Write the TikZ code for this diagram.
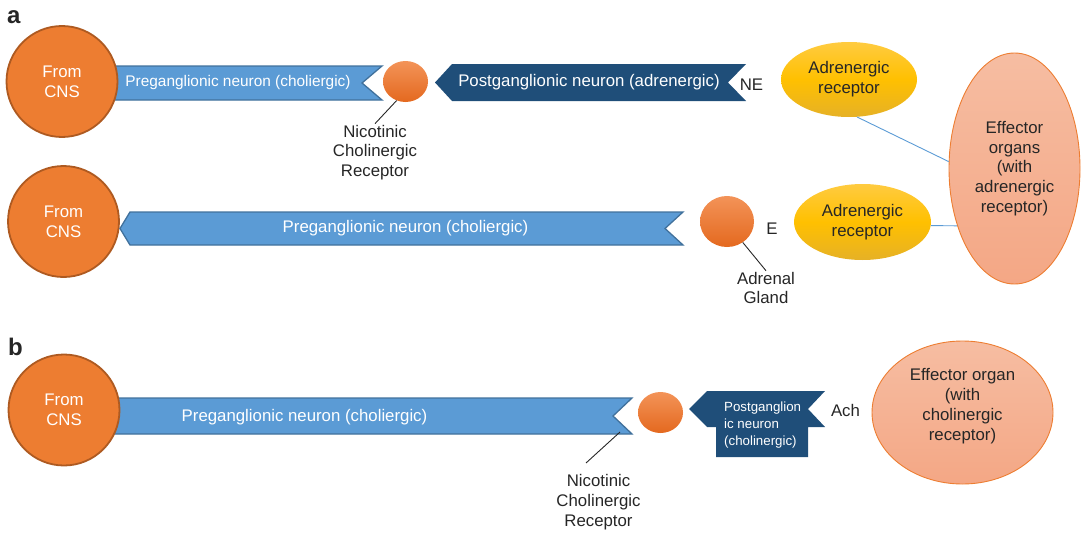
\documentclass[tikz,border=0pt]{standalone}
\usepackage{fontspec}
\setmainfont{Liberation Sans}
\usetikzlibrary{shapes.geometric}
\definecolor{cnsor}{HTML}{ED7D31}
\definecolor{cnsbd}{HTML}{AE5A21}
\definecolor{bandbl}{HTML}{5B9BD5}
\definecolor{bandbd}{HTML}{41719C}
\definecolor{darkbl}{HTML}{1F4E79}
\definecolor{txt}{HTML}{262626}
\definecolor{gtop}{HTML}{F39358}
\definecolor{gbot}{HTML}{E4691F}
\definecolor{ytop}{HTML}{FFCB40}
\definecolor{ymid}{HTML}{FFC000}
\definecolor{ybot}{HTML}{E6B126}
\definecolor{etop}{HTML}{F6BDA2}
\definecolor{ebot}{HTML}{F4A785}
\newcommand\fsmain{\fontsize{16.8}{19.8}\selectfont}
\newcommand\fspre{\fontsize{15.4}{18.5}\selectfont}
\newcommand\fssmall{\fontsize{13.3}{16.8}\selectfont}
\newcommand\fspanel{\fontsize{24}{28}\selectfont\bfseries}
\begin{document}
\begin{tikzpicture}[x=1pt,y=-1pt,
  cns/.style={circle, fill=cnsor, draw=cnsbd, line width=1.8pt, inner sep=0pt,
    minimum size=111pt, text=white, font=\fsmain, align=center},
  ganglion/.style={ellipse, top color=gtop, bottom color=gbot, draw=none,
    minimum width=45pt, minimum height=41pt, inner sep=0pt},
  receptor/.style={ellipse, top color=ytop, bottom color=ybot, middle color=ymid,
    draw=none, minimum width=136pt, minimum height=75pt, inner sep=0pt,
    text=txt, font=\fsmain, align=center},
  effector/.style={ellipse, draw=cnsor, line width=0.9pt, top color=etop,
    bottom color=ebot, inner sep=0pt, text=txt, font=\fsmain, align=center},
  lbl/.style={text=txt, font=\fsmain, align=center, inner sep=1pt},
  wtxt/.style={text=white, font=\fsmain, inner sep=0pt},
  band/.style={fill=bandbl, draw=bandbd, line width=1.3pt, line join=miter},
  dband/.style={fill=darkbl, draw=none},
  conn/.style={draw=bandbl, line width=0.9pt},
  leader/.style={draw=txt, line width=0.9pt},
  panel/.style={text=txt, font=\fspanel, anchor=base west, inner sep=0pt}]
\useasboundingbox (0,0) rectangle (1083,535);

% panel labels
\node[panel] (pa) at (7,24) {a};
\node[panel] (pb) at (8,355) {b};

% ---------- row 1 ----------
\path[band] (100,66) -- (382,66) -- (362,83) -- (382,100) -- (100,100) -- cycle;
\node[cns] (cns1) at (62,81.5) {From\\CNS};
\node[wtxt, font=\fspre] (pre1) at (238,83) {Preganglionic neuron (choliergic)};
\node[ganglion] (g1) at (405.5,81.5) {};
\node[lbl] (lbl1) at (375,152.5) {Nicotinic\\Cholinergic\\Receptor};
\draw[leader] (g1.-115) -- (lbl1.north);
\path[dband] (435,82.5) -- (452,64) -- (746,64) -- (728,82.5) -- (746,101) -- (452,101) -- cycle;
\node[wtxt] (post1) at (589,82.5) {Postganglionic neuron (adrenergic)};
\node[lbl] (ne) at (751.5,85) {NE};
\node[receptor] (ar1) at (849,79.5) {Adrenergic\\receptor};
\node[effector, minimum width=131pt, minimum height=231pt] (eff1) at (1014.5,168.5)
  {Effector\\organs\\(with\\adrenergic\\receptor)};

% ---------- row 2 ----------
\node[cns] (cns2) at (63.5,221.5) {From\\CNS};
\path[band] (130,212) -- (683,212) -- (665,228.5) -- (683,245) -- (130,245) -- (120,228.5) -- cycle;
\node[wtxt] (pre2) at (405.5,228) {Preganglionic neuron (choliergic)};
\node[ganglion, minimum width=54pt, minimum height=51pt] (adr) at (727,221.5) {};
\node[lbl] (e) at (772,228.5) {E};
\node[lbl] (lbl2) at (766,288) {Adrenal\\Gland};
\draw[leader] (adr.-53) -- (lbl2.north);
\node[receptor, minimum width=137pt, minimum height=76pt] (ar2) at (862.5,222) {Adrenergic\\receptor};

% connectors to effector organs
\draw[conn] (ar1.-78) -- (eff1.174);
\draw[conn] (ar2.-3) -- (eff1.225.4);

% ---------- panel b ----------
\path[band] (100,398) -- (632,398) -- (613,416) -- (632,434) -- (100,434) -- cycle;
\node[cns] (cns3) at (64,410) {From\\CNS};
\node[wtxt] (pre3) at (304.5,417) {Preganglionic neuron (choliergic)};
\node[ganglion] (g3) at (660.5,412.5) {};
\coordinate (n3) at (620,432);
\coordinate (l3end) at (586,463);
\draw[leader] (n3) -- (l3end);
\node[lbl] (lbl3) at (598.5,502) {Nicotinic\\Cholinergic\\Receptor};
\path[dband] (689,409) -- (707,391) -- (825,391) -- (808,409) -- (825,427) -- (808,427)
  -- (808,457) -- (716,457) -- (716,427) -- (707,427) -- cycle;
\node[text=white, font=\fssmall, align=left, anchor=west, inner sep=0pt] (post3)
  at (724,425) {Postganglion\\ic neuron\\(cholinergic)};
\node[lbl] (ach) at (845.5,410) {Ach};
\node[effector, minimum width=181pt, minimum height=143pt] (eff3) at (962.5,412.5) {};
\node[lbl] (eff3t) at (962.5,406) {Effector organ\\(with\\cholinergic\\receptor)};
\end{tikzpicture}
\end{document}
